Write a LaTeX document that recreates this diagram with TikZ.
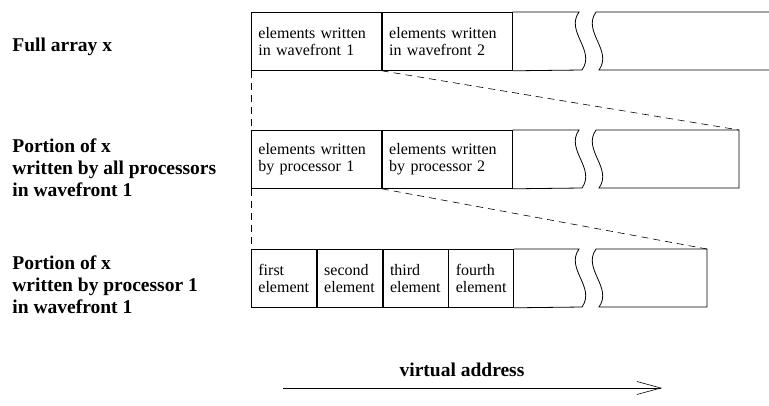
\documentclass[tikz,border=0pt]{standalone}
\usepackage{fontspec}
\setmainfont{Liberation Serif}
\usetikzlibrary{arrows.meta}
\begin{document}
\begin{tikzpicture}[x=1pt,y=-1pt, line width=0.8pt,
 cell/.style={draw, anchor=north west, minimum height=58pt, inner xsep=7pt, inner ysep=0pt, align=left, font=\fontsize{16}{16.5}\selectfont},
 wide/.style={cell, text width=116pt},
 narrow/.style={cell, text width=51pt},
 lbl/.style={anchor=west, inner sep=0pt, align=left, font=\fontsize{19.5}{22}\selectfont\bfseries},
 link/.style={dash pattern=on 7pt off 5pt, line width=0.6pt}]
\useasboundingbox (0,0) rectangle (769,405);
% row 1
\node[wide] (a1) at (251,12) {elements written\\in wavefront 1};
\node[wide] (a2) at (a1.north east) {elements written\\in wavefront 2};
\draw (a2.north east) -- (579,12) .. controls (565,32) and (596,50) .. (582,70) -- (a2.south east);
\draw (769,12) -- (596,12) .. controls (582,32) and (613,50) .. (599,70) -- (769,70);
% row 2
\node[wide] (b1) at (251,130) {elements written\\by processor 1};
\node[wide] (b2) at (b1.north east) {elements written\\by processor 2};
\draw (b2.north east) -- (579,130) .. controls (565,150) and (596,168) .. (582,188) -- (b2.south east);
\coordinate (b2end) at (739,130);
\draw (599,188) .. controls (613,168) and (582,150) .. (596,130) -- (b2end) -- (739,188) -- cycle;
% row 3
\node[narrow] (c1) at (251,249) {first\\element};
\node[narrow] (c2) at (c1.north east) {second\\element};
\node[narrow] (c3) at (c2.north east) {third\\element};
\node[narrow] (c4) at (c3.north east) {fourth\\element};
\draw (c4.north east) -- (579,249) .. controls (565,269) and (596,287) .. (582,307) -- (c4.south east);
\coordinate (c4end) at (707,249);
\draw (599,307) .. controls (613,287) and (582,269) .. (596,249) -- (c4end) -- (707,307) -- cycle;
% dashed links
\draw[link] (a1.south west) -- (b1.north west);
\draw[link] (a1.south east) -- (b2end);
\draw[link] (b1.south west) -- (c1.north west);
\draw[link] (b1.south east) -- (c4end);
% labels
\node[lbl, anchor=base west] (l1) at (12,51) {Full array x};
\node[lbl] (l2) at (12,168) {Portion of x\\written by all processors\\in wavefront 1};
\node[lbl] (l3) at (12,285) {Portion of x\\written by processor 1\\in wavefront 1};
% virtual address arrow
\coordinate (v1) at (283,388);
\coordinate (v2) at (662,388);
\draw[-{Straight Barb[length=24pt,width=13pt]}, line width=0.6pt] (v1) -- (v2);
\node[anchor=base, inner sep=0pt, font=\fontsize{19.5}{22}\selectfont\bfseries] (va) at (462,376) {virtual address};
\end{tikzpicture}
\end{document}
